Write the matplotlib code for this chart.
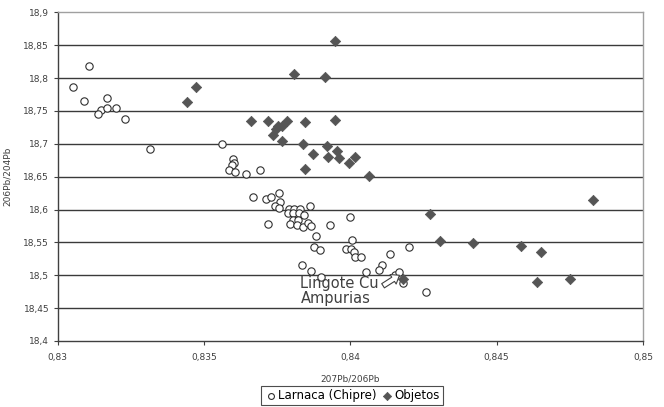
import matplotlib
matplotlib.use("Agg")
import matplotlib.pyplot as plt
from matplotlib.ticker import FixedLocator, FuncFormatter

# --- data ---
larnaca_x = [0.83054, 0.83109, 0.83092, 0.83168, 0.83148, 0.83170, 0.83139, 0.83201, 0.83232,
             0.83316, 0.83562, 0.83598, 0.83603, 0.83597, 0.83587, 0.83605, 0.83644, 0.83691,
             0.83669, 0.83712, 0.83728, 0.83758, 0.83760, 0.83742, 0.83756, 0.83863, 0.83792,
             0.83808, 0.83828, 0.83786, 0.83805, 0.83826, 0.83842, 0.83803, 0.83821, 0.83794,
             0.83718, 0.83817, 0.83840, 0.83855, 0.83865, 0.83931, 0.83999, 0.83882, 0.83876,
             0.83897, 0.84005, 0.83986, 0.84002, 0.84013, 0.84016, 0.84036, 0.83834, 0.83867,
             0.83900, 0.84053, 0.84200, 0.84136, 0.84109, 0.84099, 0.84153, 0.84167, 0.84181,
             0.84258]
larnaca_y = [18.786, 18.819, 18.765, 18.769, 18.751, 18.755, 18.745, 18.755, 18.737,
             18.692, 18.699, 18.677, 18.671, 18.667, 18.660, 18.657, 18.654, 18.660,
             18.619, 18.616, 18.619, 18.625, 18.612, 18.605, 18.602, 18.605, 18.601,
             18.601, 18.601, 18.594, 18.594, 18.595, 18.591, 18.584, 18.584, 18.578,
             18.578, 18.577, 18.574, 18.580, 18.575, 18.577, 18.588, 18.560, 18.543,
             18.539, 18.553, 18.540, 18.540, 18.536, 18.527, 18.527, 18.515, 18.506,
             18.498, 18.505, 18.543, 18.532, 18.516, 18.508, 18.501, 18.505, 18.488,
             18.474]

objetos_x = [0.83441, 0.83472, 0.83661, 0.83718, 0.83735, 0.83745, 0.83754, 0.83766, 0.83783,
             0.83766, 0.83808, 0.83845, 0.83840, 0.83874, 0.83845, 0.83914, 0.83948, 0.83947,
             0.83922, 0.83925, 0.83956, 0.83963, 0.83997, 0.84016, 0.84063, 0.84272, 0.84307,
             0.84419, 0.84583, 0.84652, 0.84637, 0.84750, 0.84828, 0.84179]
objetos_y = [18.763, 18.787, 18.734, 18.735, 18.713, 18.723, 18.727, 18.727, 18.735,
             18.704, 18.806, 18.733, 18.700, 18.685, 18.662, 18.802, 18.857, 18.736,
             18.697, 18.680, 18.689, 18.679, 18.670, 18.680, 18.651, 18.593, 18.552,
             18.549, 18.544, 18.535, 18.489, 18.495, 18.615, 18.495]

x_ticks = [0.83, 0.835, 0.84, 0.845, 0.85]
y_ticks = [18.4, 18.45, 18.5, 18.55, 18.6, 18.65, 18.7, 18.75, 18.8, 18.85, 18.9]

annot_text = "Lingote Cu\nAmpurias"

# --- figure ---
fig = plt.figure(figsize=(6.64, 4.07), dpi=100)
ax = fig.add_axes([0.0866, 0.1622, 0.8818, 0.8076])

txt_col = "#404040"
ax.set_xlim(0.83, 0.85)
ax.set_ylim(18.4, 18.9)
ax.xaxis.set_major_locator(FixedLocator(x_ticks))
ax.yaxis.set_major_locator(FixedLocator(y_ticks))

def comma_fmt(v, pos):
    s = ("%.3f" % v).rstrip("0").rstrip(".")
    return s.replace(".", ",")

ax.xaxis.set_major_formatter(FuncFormatter(comma_fmt))
ax.yaxis.set_major_formatter(FuncFormatter(comma_fmt))

for yv in y_ticks[1:-1]:
    ax.axhline(yv, color="#3a3a3a", lw=1.0, zorder=1)

for s in ["top", "right"]:
    ax.spines[s].set_color("#a0a0a0")
    ax.spines[s].set_linewidth(1.0)
for s in ["left", "bottom"]:
    ax.spines[s].set_color("#404040")
    ax.spines[s].set_linewidth(1.0)

ax.tick_params(axis="both", labelsize=6.5, colors=txt_col, length=3, width=0.8)
ax.tick_params(axis="x", pad=6)
ax.tick_params(axis="y", pad=3)

ax.set_xlabel("207Pb/206Pb", fontsize=6.5, color=txt_col, labelpad=9)
ax.set_ylabel("206Pb/204Pb", fontsize=6.5, color=txt_col, labelpad=8)

ax.scatter(larnaca_x, larnaca_y, s=28, marker="o", facecolors="white",
           edgecolors="#303030", linewidths=0.8, zorder=3, label="Larnaca (Chipre)")
ax.scatter(objetos_x, objetos_y, s=28, marker="D", facecolors="#555555",
           edgecolors="#555555", linewidths=0.5, zorder=4, label="Objetos")

ax.text(0.83830, 18.499, annot_text, fontsize=10.5, color="#404040",
        va="top", ha="left", linespacing=1.0, zorder=5)
ax.annotate("", xy=(0.84168, 18.500), xytext=(0.84112, 18.484),
            arrowprops=dict(arrowstyle="simple,head_length=0.6,head_width=0.9,tail_width=0.4",
                            mutation_scale=9, shrinkA=0, shrinkB=0,
                            fc="white", ec="#404040", lw=0.8), zorder=5)

leg = fig.legend(loc="lower center", bbox_to_anchor=(0.53, 0.005), ncol=2,
                 fontsize=8.5, frameon=True, fancybox=False, edgecolor="#202020",
                 handletextpad=0.0, columnspacing=0.3, borderpad=0.25,
                 handlelength=1.2, markerscale=0.8, borderaxespad=0)
leg.get_frame().set_linewidth(0.8)

fig.savefig("out.png", dpi=100)
